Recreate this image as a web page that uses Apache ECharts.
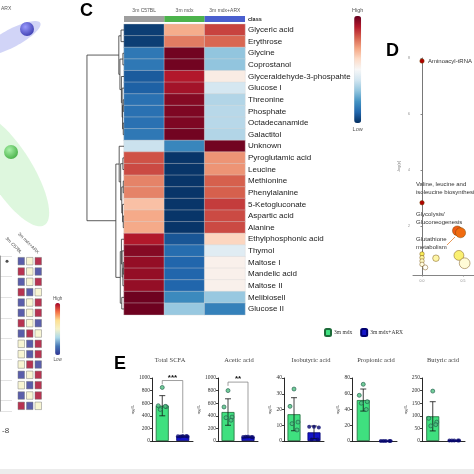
<!DOCTYPE html>
<html><head><meta charset="utf-8">
<script src="https://cdn.jsdelivr.net/npm/echarts@6/dist/echarts.min.js"></script>
<style>html,body{margin:0;padding:0;background:#fff}#c{width:474px;height:474px}</style>
</head><body><div id="c"></div>
<script>
// ---------- Panel C: heatmap data ----------
const metabolites = ['Glyceric acid','Erythrose','Glycine','Coprostanol','Glyceraldehyde-3-phospahte','Glucose I','Threonine','Phosphate','Octadecanamide','Galactitol','Unknown','Pyroglutamic acid','Leucine','Methionine','Phenylalanine','5-Ketogluconate','Aspartic acid','Alanine','Ethylphosphonic acid','Thymol','Maltose I','Mandelic acid','Maltose II','Melibiosell','Glucose II'];
const groups = ['3m C57BL','3m mdx','3m mdx+ARX'];
const c57Z = [-0.95,-0.95,-0.72,-0.72,-0.84,-0.82,-0.75,-0.75,-0.75,-0.72,-0.22,0.64,0.66,0.5,0.5,0.3,0.38,0.38,0.8,0.92,0.88,0.88,0.88,0.98,0.98];
const mdxZ = [0.37,0.52,0.97,0.97,0.8,0.84,0.92,0.94,0.94,0.97,-0.66,-0.98,-0.98,-0.98,-0.98,-0.98,-0.98,-0.98,-0.86,-0.77,-0.8,-0.8,-0.8,-0.64,-0.38];
const arxZ = [0.68,0.58,-0.4,-0.4,0.08,-0.18,-0.3,-0.28,-0.28,-0.3,0.97,0.45,0.45,0.6,0.6,0.7,0.66,0.66,0.22,-0.12,0.05,0.05,0.05,-0.38,-0.68];
// hierarchical clustering linkage: [childA, childB, height]; leaves 0..24, nodes 25..
const linkage = [[0,1,0.08],[2,3,0.03],[6,7,0.02],[8,9,0.02],[27,28,0.04],[5,29,0.05],[4,30,0.07],[26,31,0.11],[25,32,0.14],
  [11,12,0.03],[13,14,0.02],[16,17,0.02],[15,36,0.04],[35,37,0.06],[34,38,0.09],[10,39,0.13],
  [20,21,0.02],[41,22,0.03],[19,42,0.05],[18,43,0.07],[23,24,0.06],[44,45,0.1],[40,46,0.22],[33,47,1.0]];

// ---------- Panel D: pathway analysis ----------
const pathImpact = [0,0,0.43,0.47,0,0,0,0,0.04,0.17,0.45,0.52];
const pathLogP   = [7.89,2.83,1.83,1.76,1.0,0.87,0.75,0.63,0.52,0.85,0.95,0.67];

// ---------- Panel E: SCFA ----------
const scfaNames = ['Total SCFA','Acetic acid','Isobutyric acid','Propionic acid','Butyric acid'];
const scfaMax = [1000,1000,40,80,250];
const scfaStep = [200,200,10,20,50];
const mdxMean = [560,460,17,52,98];
const mdxSd = [160,210,10.5,14,58];
const arxMean = [75,65,5.5,0,2];
const arxSd = [10,10,4,0,0];
const mdxPts = [[850,560,545,500,550],[800,540,380,370,330],[33,22,12,11,7],[72,58,50,48,40],[198,90,75,60,65]];
const arxPts = [[80,75,70,72,78],[70,65,60,68,62],[9,9,8.5,1,1],[0,0,0,0,0],[2,2,2,2,2]];
const sigLabel = ['***','**','','',''];
const sigLevel = [960,935,null,null,null];

// ---------- left panels ----------
const pcaGroups = ['3m mdx+ARX','3m mdx'];
const pc1 = [27,11];
const pc2 = [29,152];
const ellCx = [12,10], ellCy = [38,170], ellA = [32,65], ellB = [9,22], ellAng = [-28,58];
const smallMat = [[-1,0,1],[1,0,-1],[-1,0,1],[1,-1,0],[-1,0,1],[-1,0,1],[1,0,-1],[-1,1,0],[0,-1,1],[0,-1,1],[0,1,-1],[-1,0,1],[0,-1,1],[-1,0,1],[1,-1,0]];

// ---------- build ----------
const heatData = [];
metabolites.forEach((m,i)=>{heatData.push([0,i,c57Z[i]],[1,i,mdxZ[i]],[2,i,arxZ[i]]);});
const nLeaf = metabolites.length, nodeC = [], nodeH = [];
for (let i=0;i<nLeaf;i++){nodeC[i]=i;nodeH[i]=0;}
const dendroLines = linkage.map((m,k)=>{const [a,b,h]=m;const id=nLeaf+k;nodeC[id]=(nodeC[a]+nodeC[b])/2;nodeH[id]=h;
  return {coords:[[nodeH[a],nodeC[a]],[h,nodeC[a]],[h,nodeC[b]],[nodeH[b],nodeC[b]]]};});

const classColors = ['#9e9e9e','#4cb34c','#4a5fcf'];
const rdbu = ['#053061','#2166ac','#4393c3','#92c5de','#d1e5f0','#f7f7f7','#fddbc7','#f4a582','#d6604d','#b2182b','#67001f'];
const serif = 'Liberation Serif';
const sans = 'Liberation Sans';

const grids = [
  {left:124, top:24.2, width:121, height:290.6},   //0 heatmap
  {left:124, top:16, width:121, height:6},         //1 class bar
  {left:84, top:24.2, width:40, height:290.6},     //2 dendrogram
  {left:413, top:58, width:61, height:217},        //3 panel D
  {left:0, top:0, width:120, height:240},          //4 PCA
  {left:17, top:256, width:25.5, height:155},      //5 small heat
  {left:0, top:256, width:12, height:155}          //6 table
];
const xAxes = [
  {gridIndex:0,type:'category',data:groups,show:false},
  {gridIndex:1,type:'category',data:groups,position:'top',axisLine:{show:false},axisTick:{show:false},axisLabel:{fontSize:5,color:'#555',margin:3}},
  {gridIndex:2,type:'value',min:0,max:1.08,inverse:true,show:false},
  {gridIndex:3,type:'value',min:-0.11,max:0.634,axisLine:{lineStyle:{color:'#666',width:0.8}},splitLine:{show:false},
    axisTick:{customValues:[0,0.5],length:1.5,lineStyle:{color:'#888'}},axisLabel:{customValues:[0,0.5],fontSize:3.5,color:'#888',margin:4,formatter:v=>v.toFixed(1)}},
  {gridIndex:4,type:'value',min:0,max:120,show:false},
  {gridIndex:5,type:'category',data:groups,position:'top',axisLine:{show:false},axisTick:{show:false},axisLabel:{rotate:45,fontSize:4.5,color:'#444',margin:3}},
  {gridIndex:6,type:'value',min:0,max:12,show:false}
];
const yAxes = [
  {gridIndex:0,type:'category',data:metabolites,inverse:true,position:'right',axisLine:{show:false},axisTick:{show:false},axisLabel:{fontSize:8,color:'#1a1a1a',margin:3,fontFamily:sans}},
  {gridIndex:1,type:'category',data:['class'],position:'right',axisLine:{show:false},axisTick:{show:false},axisLabel:{fontSize:5.5,fontWeight:'bold',color:'#222',margin:3}},
  {gridIndex:2,type:'value',min:-0.5,max:nLeaf-0.5,inverse:true,show:false},
  {gridIndex:3,type:'value',min:0.25,max:8,name:'-log(p)',nameLocation:'middle',nameGap:12,nameRotate:90,nameTextStyle:{fontSize:4,color:'#777'},
    axisLine:{show:true,lineStyle:{color:'#555',width:0.8}},splitLine:{show:false},
    axisTick:{show:true,customValues:[2,4,6,8],length:1.5,lineStyle:{color:'#888'}},axisLabel:{customValues:[2,4,6,8],fontSize:3.5,color:'#888',margin:3}},
  {gridIndex:4,type:'value',min:0,max:240,inverse:true,show:false},
  {gridIndex:5,type:'category',data:smallMat.map((r,i)=>'r'+i),inverse:true,show:false},
  {gridIndex:6,type:'category',data:smallMat.map((r,i)=>'r'+i),inverse:true,position:'right',axisLine:{show:true,lineStyle:{color:'#888',width:0.8}},axisTick:{show:false},axisLabel:{show:false},splitLine:{show:true,lineStyle:{color:'#d0d0d0',width:0.6}}}
];
const series = [
  {type:'heatmap',xAxisIndex:0,yAxisIndex:0,data:heatData,itemStyle:{borderColor:'rgba(215,215,215,0.8)',borderWidth:0.5},emphasis:{disabled:true}},
  {type:'custom',xAxisIndex:1,yAxisIndex:1,data:groups.map((g,i)=>[i,0]),renderItem:(p,api)=>{const c=api.coord([api.value(0),api.value(1)]);const s=api.size([1,1]);
    return {type:'rect',shape:{x:c[0]-s[0]/2,y:c[1]-s[1]/2,width:s[0],height:s[1]},style:{fill:classColors[p.dataIndex]}};}},
  {type:'lines',coordinateSystem:'cartesian2d',xAxisIndex:2,yAxisIndex:2,polyline:true,data:dendroLines,lineStyle:{color:'#333',width:0.8,opacity:1},silent:true},
  {type:'scatter',xAxisIndex:3,yAxisIndex:3,data:pathImpact.map((x,i)=>[x,pathLogP[i]]),symbolSize:v=>4.5+12*v[0],
    itemStyle:{borderColor:'rgba(110,70,0,0.75)',borderWidth:0.6,opacity:1}},
  {type:'custom',xAxisIndex:4,yAxisIndex:4,data:ellCx.map((c,i)=>[c,ellCy[i],ellA[i],ellB[i],ellAng[i]]),renderItem:(p,api)=>{
    const cx=api.value(0),cy=api.value(1),a=api.value(2),b=api.value(3),th=api.value(4)*Math.PI/180;const pts=[];
    for(let k=0;k<72;k++){const t=k/72*2*Math.PI;pts.push(api.coord([cx+a*Math.cos(t)*Math.cos(th)-b*Math.sin(t)*Math.sin(th),cy+a*Math.cos(t)*Math.sin(th)+b*Math.sin(t)*Math.cos(th)]));}
    return {type:'polygon',shape:{points:pts},style:{fill:['rgba(115,125,230,0.33)','rgba(125,225,125,0.25)'][p.dataIndex]}};}},
  {type:'scatter',xAxisIndex:4,yAxisIndex:4,symbolSize:14,data:pc1.map((x,i)=>({value:[x,pc2[i]],itemStyle:{color:{type:'radial',x:0.38,y:0.35,r:0.7,
    colorStops:i===0?[{offset:0,color:'#8c8cff'},{offset:1,color:'#1a1aa0'}]:[{offset:0,color:'#9cf09c'},{offset:1,color:'#22a022'}]}}}))},
  {type:'scatter',xAxisIndex:5,yAxisIndex:5,symbol:'rect',symbolSize:[6.5,7.5],itemStyle:{borderColor:'#777',borderWidth:0.6},
    data:smallMat.flatMap((r,i)=>r.map((v,j)=>[j,i,v]))},
  {type:'scatter',xAxisIndex:6,yAxisIndex:6,symbolSize:3,itemStyle:{color:'#222'},data:[[7,0]]}
];
const eGrid = [{l:152,w:41},{l:218,w:40},{l:284,w:40},{l:352,w:45},{l:422,w:43}];
const eTitleX = [170,239,311,376,443];
const jit = [0,-4,4,-2,3];
scfaNames.forEach((name,i)=>{
  const gi = grids.length;
  grids.push({left:eGrid[i].l,top:378,width:eGrid[i].w,height:63});
  xAxes.push({gridIndex:gi,type:'category',data:['3m mdx','3m mdx+ARX'],axisLine:{lineStyle:{color:'#111',width:0.9}},axisTick:{show:false},axisLabel:{show:false}});
  yAxes.push({gridIndex:gi,type:'value',min:0,max:scfaMax[i],interval:scfaStep[i],name:'ng/L',nameLocation:'middle',nameRotate:90,nameGap:i<2?16:12,
    nameTextStyle:{fontSize:5,color:'#444',fontFamily:serif},axisLine:{show:true,lineStyle:{color:'#111',width:0.9}},
    axisTick:{show:true,length:2,lineStyle:{color:'#111',width:0.8}},splitLine:{show:false},axisLabel:{fontSize:5.5,color:'#333',fontFamily:serif,margin:2,formatter:v=>String(v)}});
  series.push(
    {type:'bar',name:'3m mdx',xAxisIndex:gi,yAxisIndex:gi,barWidth:13,barGap:'-100%',data:[mdxMean[i],'-'],itemStyle:{color:'#3fe07f',borderColor:'#1d6b39',borderWidth:0.8}},
    {type:'bar',name:'3m mdx+ARX',xAxisIndex:gi,yAxisIndex:gi,barWidth:13,barGap:'-100%',data:['-',arxMean[i]],itemStyle:{color:'#1414c8',borderColor:'#000070',borderWidth:0.8}},
    {type:'custom',xAxisIndex:gi,yAxisIndex:gi,z:5,data:[[0,mdxMean[i],mdxSd[i]],[1,arxMean[i],arxSd[i]]],renderItem:(p,api)=>{
      const x=api.value(0),m=api.value(1),sd=api.value(2);if(!sd)return null;
      const t=api.coord([x,m+sd]),b=api.coord([x,Math.max(m-sd,0)]);const st={stroke:'#111',lineWidth:0.8};
      return {type:'group',children:[{type:'line',shape:{x1:t[0],y1:t[1],x2:b[0],y2:b[1]},style:st},
        {type:'line',shape:{x1:t[0]-3,y1:t[1],x2:t[0]+3,y2:t[1]},style:st},{type:'line',shape:{x1:b[0]-3,y1:b[1],x2:b[0]+3,y2:b[1]},style:st}]};}},
    {type:'scatter',xAxisIndex:gi,yAxisIndex:gi,z:6,symbolSize:4,itemStyle:{color:'#4fbf80',borderColor:'#1e5a48',borderWidth:0.8},
      data:mdxPts[i].map((v,k)=>({value:[0,v],symbolOffset:[jit[k],0]}))},
    {type:'scatter',xAxisIndex:gi,yAxisIndex:gi,z:6,symbolSize:4,itemStyle:{color:'#06066e'},
      data:arxPts[i].map((v,k)=>({value:[1,v],symbolOffset:[jit[k]*1.2,0]}))}
  );
  if (sigLevel[i]!==null){
    const lv=sigLevel[i], le=lv-0.06*scfaMax[i], re=arxMean[i]+arxSd[i]+0.04*scfaMax[i], lab=sigLabel[i];
    series.push({type:'custom',xAxisIndex:gi,yAxisIndex:gi,z:7,data:[[0,lv,le,re]],renderItem:(p,api)=>{
      const a=api.coord([0,api.value(2)]),b=api.coord([0,api.value(1)]),c=api.coord([1,api.value(1)]),d=api.coord([1,api.value(3)]);
      return {type:'group',children:[{type:'polyline',shape:{points:[a,b,c,d]},style:{stroke:'#777',lineWidth:0.7,fill:null}},
        {type:'text',x:(b[0]+c[0])/2,y:b[1]+1,style:{text:lab,fontSize:8,fontWeight:'bold',align:'center',verticalAlign:'bottom',fill:'#111'}}]};}});
  }
});

const txt = (x,y,t,fs,extra)=>Object.assign({type:'text',x:x,y:y,style:Object.assign({text:t,fontSize:fs,fill:'#333',fontFamily:sans,verticalAlign:'middle'},extra||{})});
const option = {
  animation:false,
  textStyle:{fontFamily:sans},
  grid:grids, xAxis:xAxes, yAxis:yAxes, series:series,
  legend:{left:324,top:328,itemWidth:6,itemHeight:7,itemGap:8,padding:0,data:['3m mdx','3m mdx+ARX'],textStyle:{fontSize:5.5,color:'#333',fontFamily:serif,padding:[0,0,0,-2]}},
  title:scfaNames.map((n,i)=>({text:n,left:eTitleX[i],top:357,textAlign:'center',padding:0,textStyle:{fontSize:6.5,fontWeight:'normal',color:'#444',fontFamily:serif}})),
  visualMap:[
    {type:'continuous',seriesIndex:0,min:-1,max:1,calculable:false,left:352,top:7,itemWidth:7,itemHeight:107,padding:0,textGap:3,text:['High','Low'],
      textStyle:{fontSize:5.5,color:'#555'},inRange:{color:rdbu}},
    {type:'continuous',seriesIndex:3,dimension:1,min:0.5,max:2.5,show:false,inRange:{color:['#ffffff','#fff7b0','#f2e400','#f0a800','#f05a14','#d01818','#b00000']}},
    {type:'continuous',seriesIndex:6,dimension:2,min:-1,max:1,calculable:false,left:53,top:296,itemWidth:5,itemHeight:52,padding:0,textGap:2,text:['High','Low'],
      textStyle:{fontSize:4.5,color:'#555'},inRange:{color:['#313695','#4575b4','#abd9e9','#f6f2c8','#fee090','#f46d43','#a50026']}}
  ],
  graphic:[
    txt(80,11,'C',18,{fontWeight:'bold',fill:'#000'}),
    txt(386,51,'D',18,{fontWeight:'bold',fill:'#000'}),
    txt(114,364,'E',18,{fontWeight:'bold',fill:'#000'}),
    txt(1,9,'ARX',5,{fill:'#555'}),
    txt(2,431,'-8',8,{fill:'#444'}),
    txt(428,61,'Aminoacyl-tRNA biosynthesis',6,{}),
    txt(416,184,'Valine, leucine and',6,{}),
    txt(416,192,'isoleucine biosynthesis',6,{}),
    txt(416,214,'Glycolysis/',6,{}),
    txt(416,222.5,'Gluconeogenesis',6,{}),
    txt(416,239.5,'Glutathione',6,{}),
    txt(416,247.5,'metabolism',6,{}),
    {type:'line',shape:{x1:447,y1:245,x2:455,y2:237},style:{stroke:'#e89a5a',lineWidth:1}},
    {type:'rect',shape:{x:0,y:469,width:474,height:5},style:{fill:'#ececec'}}
  ]
};
const chart = echarts.init(document.getElementById('c'),null,{renderer:'canvas'});
chart.setOption(option);
</script></body></html>
